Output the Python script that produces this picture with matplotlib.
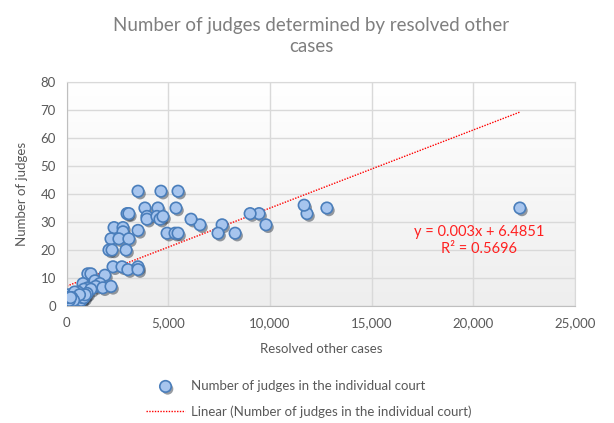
import matplotlib
matplotlib.use("Agg")
import matplotlib.pyplot as plt
import matplotlib.patheffects as pe
from matplotlib.colors import LinearSegmentedColormap
from matplotlib.ticker import FuncFormatter
import numpy as np

plt.rcParams['font.family'] = ['Lato', 'DejaVu Sans']

# resolved other cases vs number of judges
resolved = [22300, 12800, 11820, 11680, 9800, 9460, 9020, 8280, 7640, 7440,
            6550, 6110, 5470, 4630, 3500, 5370, 4480, 3840, 2960, 3050,
            3940, 3940, 4430, 4580, 4730, 2320, 2760, 2760, 3500, 4930,
            5320, 5470, 2170, 2560, 3050, 2070, 2220, 2910, 2270, 2710,
            3000, 3500, 3500,
            1030, 1180, 1870, 790, 1380, 1620, 1030, 1420, 1770, 2170,
            840, 1180, 540, 990, 200, 450, 690, 140, 50,
            20, 60, 100, 130, 170, 210, 250, 290, 320, 360,
            400, 440, 490, 530, 580, 650, 700, 760, 840, 900,
            90, 290, 380, 620, 240, 30, 70, 110, 160, 200,
            270, 330, 120, 40, 180]
judges = [35, 35, 33, 36, 29, 33, 33, 26, 29, 26,
          29, 31, 41, 41, 41, 35, 35, 35, 33, 33,
          32, 31, 32, 31, 32, 28, 28, 26.5, 27, 26,
          26, 26, 24, 24, 24, 20, 20, 20, 14, 14,
          13, 14, 13,
          11.5, 11.5, 11, 8, 9, 8, 6.5, 7, 6.5, 7,
          6, 6, 5, 4.5, 3, 3, 3, 3, 2,
          2, 3, 2, 3, 2, 3, 2, 3, 2, 3,
          2, 2, 3, 2, 3, 3, 2, 3, 3, 4,
          4, 4, 5, 4, 3, 2, 2, 3, 2, 2,
          2, 2, 2, 3, 3]

x = np.array(resolved, dtype=float)
y = np.array(judges, dtype=float)
slope, intercept = np.polyfit(x, y, 1)

fig = plt.figure(figsize=(6.14, 4.23), dpi=100)
ax = fig.add_axes([0.109, 0.2766, 0.827, 0.5295])

# light gradient in the plot area
grad = np.linspace(1.0, 0.0, 256).reshape(-1, 1)
ax.imshow(grad, cmap=LinearSegmentedColormap.from_list('bg', ['#eeeeee', '#ffffff']),
          aspect='auto', extent=[0, 25000, 0, 80], zorder=0, origin='upper')

ax.set_xlim(0, 25000)
ax.set_ylim(0, 80)
ax.set_xticks(np.arange(0, 25001, 5000))
ax.set_yticks(np.arange(0, 81, 10))
ax.grid(True, color='#d9d9d9', linewidth=1)
ax.set_axisbelow(True)
for s in ax.spines.values():
    s.set_color('#d9d9d9')
ax.spines['left'].set_color('#bfbfbf')
ax.spines['bottom'].set_color('#bfbfbf')
ax.tick_params(length=0, colors='#595959', labelsize=9.5, pad=8)
ax.xaxis.set_major_formatter(FuncFormatter(lambda v, p: f"{int(v):,}"))

sc = ax.scatter(x, y, s=68, facecolor='#a7c5ee', edgecolor='#4a7ebb',
                linewidth=1.2, zorder=3,
                label='Number of judges in the individual court')
sc.set_path_effects([pe.SimplePatchShadow(offset=(1.5, -1.8), alpha=0.5),
                     pe.Normal()])

xs = np.array([0, x.max()])
ax.plot(xs, slope * xs + intercept, color='#ff0000', linestyle=(0, (1, 1)),
        linewidth=1, zorder=2,
        label='Linear (Number of judges in the individual court)')

ax.text(20300, 26.4, "y = 0.003x + 6.4851", color='#ff2020', fontsize=10.5,
        ha='center', va='center')
ax.text(20300, 20.2, "R² = 0.5696", color='#ff2020', fontsize=10.5,
        ha='center', va='center')

ax.set_xlabel("Resolved other cases", color='#595959', fontsize=9.5, labelpad=10)
ax.set_ylabel("Number of judges", color='#595959', fontsize=9.5, labelpad=9)

fig.text(0.507, 0.915, "Number of judges determined by resolved other\ncases",
         ha='center', va='center', fontsize=13.5, color='#7f7f7f',
         linespacing=1.35)

leg = ax.legend(loc='upper left', bbox_to_anchor=(0.218, 0.13),
                bbox_transform=fig.transFigure, frameon=False,
                fontsize=9.5, labelcolor='#595959', handlelength=3.0,
                labelspacing=1.0, handletextpad=0.4)

fig.savefig("out.png", dpi=100)
